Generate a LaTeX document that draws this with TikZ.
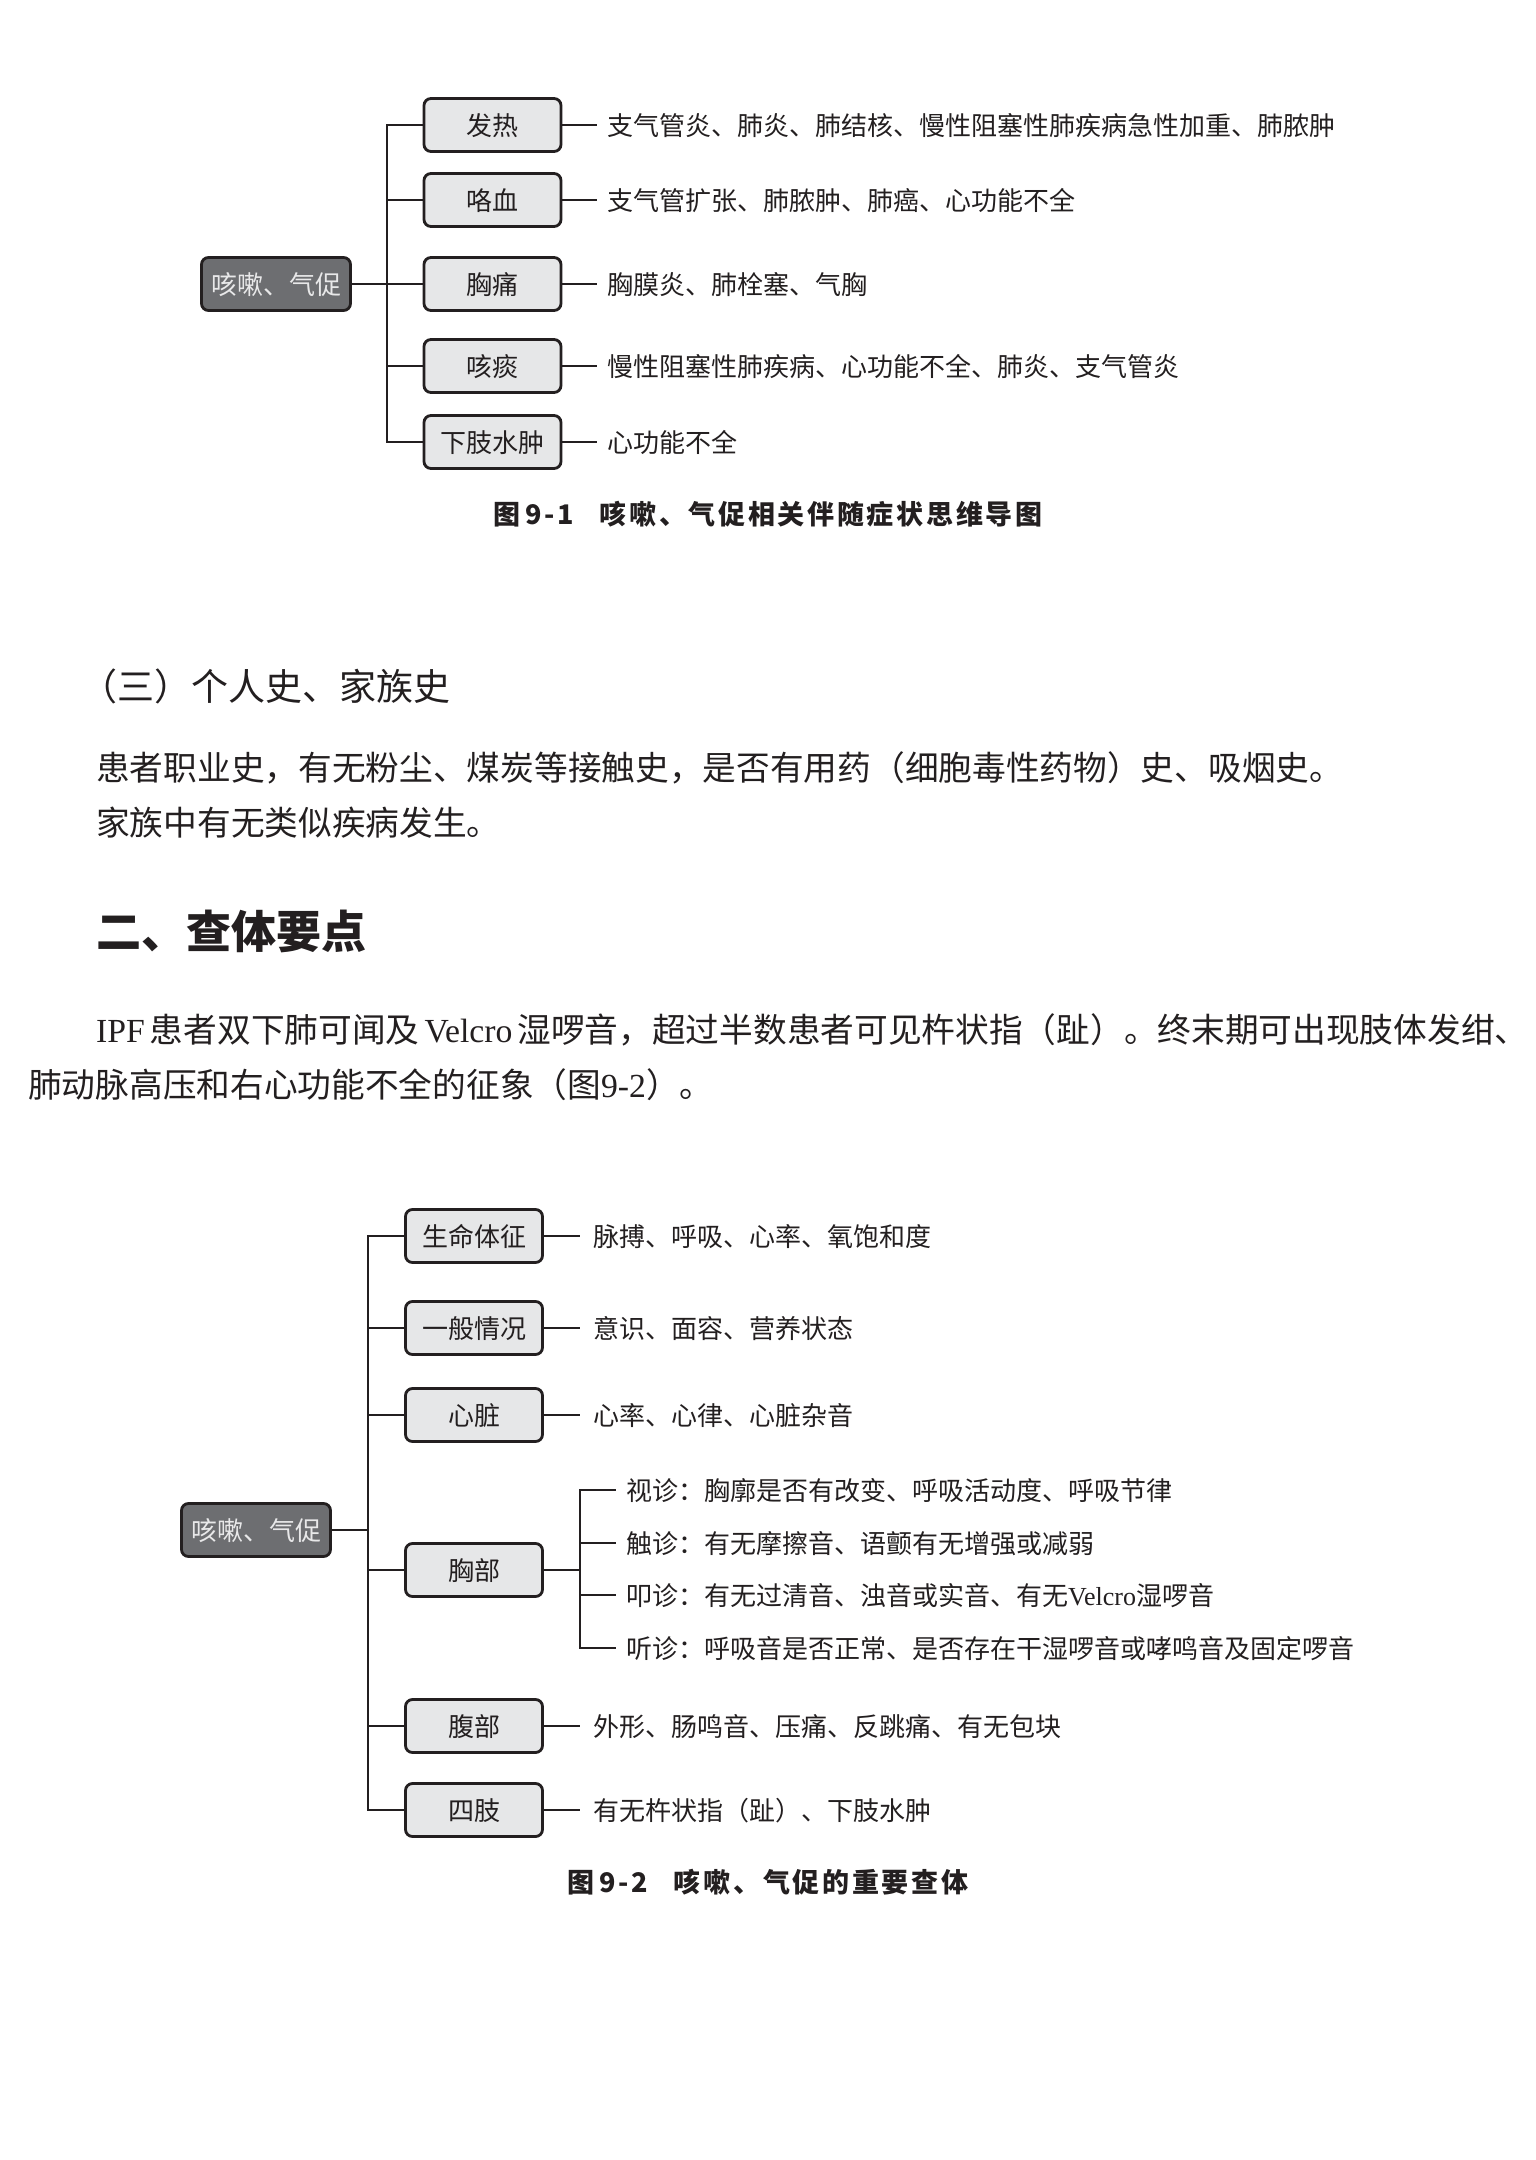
\documentclass[tikz,border=0pt]{standalone}
\usepackage{fontspec}
\usepackage{xcolor}
\setmainfont{Liberation Serif}
\newfontfamily\cjk{Noto Sans CJK SC}
\newfontfamily\cjkcap{Noto Sans CJK SC}[LetterSpace=10]
\usetikzlibrary{positioning}

\definecolor{ink}{HTML}{231F20}
\definecolor{boxfill}{HTML}{E6E7E8}
\definecolor{rootfill}{HTML}{6D6E71}
\definecolor{roottext}{HTML}{E8E8E9}

\begin{document}
\begin{tikzpicture}[
  x=1pt, y=-1pt,
  font=\cjk\fontsize{26}{30}\selectfont, text=ink,
  box/.style={draw=ink, line width=2.8pt, rounded corners=7pt, fill=boxfill, minimum width=137pt, minimum height=53pt, inner sep=0pt, text height=23pt, text depth=3pt},
  root/.style={box, fill=rootfill, text=roottext, minimum width=149pt},
  leaf/.style={anchor=west, inner sep=0pt, inner xsep=10pt, text height=23pt, text depth=3pt},
  link/.style={draw=ink, line width=2.7pt},
  para/.style={anchor=base west, inner sep=0pt, font=\cjk\fontsize{33.7}{40}\selectfont},
  caption/.style={anchor=base, inner sep=0pt, font=\cjkcap\bfseries\fontsize{27}{30}\selectfont}
]
\useasboundingbox (0,0) rectangle (1536,2160);
\fill[white] (0,0) rectangle (1536,2160);

% figure 9-1
\node[root] (cough) at (276,284) {咳嗽、气促};
\coordinate (trunk) at (387,284);
\node[box] (fever) at (492.5,125) {发热};
\node[box] (blood) at (492.5,200) {咯血};
\node[box] (pain) at (492.5,284) {胸痛};
\node[box] (sputum) at (492.5,366) {咳痰};
\node[box] (edema) at (492.5,442) {下肢水肿};
\node[leaf, right=35pt of fever] (fever-txt) {支气管炎、肺炎、肺结核、慢性阻塞性肺疾病急性加重、肺脓肿};
\node[leaf, right=35pt of blood] (blood-txt) {支气管扩张、肺脓肿、肺癌、心功能不全};
\node[leaf, right=35pt of pain] (pain-txt) {胸膜炎、肺栓塞、气胸};
\node[leaf, right=35pt of sputum] (sputum-txt) {慢性阻塞性肺疾病、心功能不全、肺炎、支气管炎};
\node[leaf, right=35pt of edema] (edema-txt) {心功能不全};

\draw[link] (cough) -- (trunk);
\foreach \n in {fever,blood,pain,sputum,edema} {
  \draw[link] (trunk) |- (\n);
  \draw[link] (\n) -- (\n-txt);
}
\node[caption] (cap1) at (768,524) {图\,9-1\hspace{26pt}咳嗽、气促相关伴随症状思维导图};

% text between the figures
\node[para, font=\cjk\fontsize{37}{40}\selectfont] (sec3) at (80,700) {（三）个人史、家族史};
\node[para] (p1a) at (96,780) {患者职业史，有无粉尘、煤炭等接触史，是否有用药（细胞毒性药物）史、吸烟史。};
\node[para] (p1b) at (96,835) {家族中有无类似疾病发生。};
\node[para, font=\cjk\bfseries\fontsize{45}{50}\selectfont] (sec2) at (96,948) {二、查体要点};
\node[para] (p2a) at (96,1042) {{\rmfamily IPF}\hspace{5pt}患者双下肺可闻及\hspace{5pt}{\rmfamily Velcro}\hspace{5pt}湿啰音，超过半数患者可见杵状指（趾）。终末期可出现肢体发绀、};
\node[para] (p2b) at (28,1097) {肺动脉高压和右心功能不全的征象（图{\rmfamily 9-2}）。};

% figure 9-2
\node[root] (cough2) at (256,1530) {咳嗽、气促};
\coordinate (trunk2) at (368,1530);
\node[box] (vital) at (474,1236) {生命体征};
\node[box] (general) at (474,1328) {一般情况};
\node[box] (heart) at (474,1415) {心脏};
\node[box] (thorax) at (474,1570) {胸部};
\node[box] (abdomen) at (474,1726) {腹部};
\node[box] (limbs) at (474,1810) {四肢};
\node[leaf, inner xsep=13pt, right=36pt of vital] (vital-txt) {脉搏、呼吸、心率、氧饱和度};
\node[leaf, inner xsep=13pt, right=36pt of general] (general-txt) {意识、面容、营养状态};
\node[leaf, inner xsep=13pt, right=36pt of heart] (heart-txt) {心率、心律、心脏杂音};
\node[leaf, inner xsep=13pt, right=36pt of abdomen] (abdomen-txt) {外形、肠鸣音、压痛、反跳痛、有无包块};
\node[leaf, inner xsep=13pt, right=36pt of limbs] (limbs-txt) {有无杵状指（趾）、下肢水肿};

\coordinate (fork) at (580,1570);
\node[leaf] (inspect) at (616,1490) {视诊：胸廓是否有改变、呼吸活动度、呼吸节律};
\node[leaf] (palpate) at (616,1543) {触诊：有无摩擦音、语颤有无增强或减弱};
\node[leaf] (percuss) at (616,1595) {叩诊：有无过清音、浊音或实音、有无{\rmfamily Velcro}湿啰音};
\node[leaf] (listen) at (616,1648) {听诊：呼吸音是否正常、是否存在干湿啰音或哮鸣音及固定啰音};

\draw[link] (cough2) -- (trunk2);
\foreach \n in {vital,general,heart,thorax,abdomen,limbs}
  \draw[link] (trunk2) |- (\n);
\foreach \n in {vital,general,heart,abdomen,limbs}
  \draw[link] (\n) -- (\n-txt);
\draw[link] (thorax) -- (fork);
\foreach \n in {inspect,palpate,percuss,listen}
  \draw[link] (fork) |- (\n);
\node[caption] (cap2) at (768,1892) {图\,9-2\hspace{26pt}咳嗽、气促的重要查体};
\end{tikzpicture}
\end{document}
